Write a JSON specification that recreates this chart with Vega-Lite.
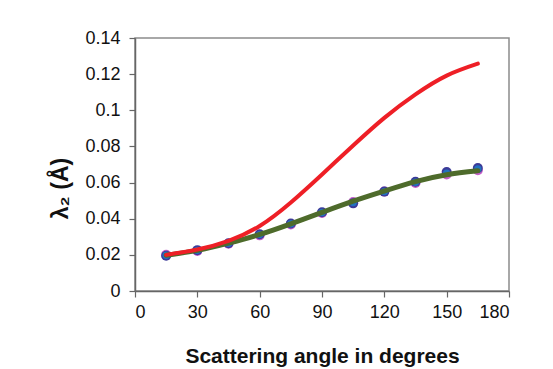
{
  "$schema": "https://vega.github.io/schema/vega-lite/v6.json",
  "width": 374,
  "height": 253,
  "autosize": "none",
  "padding": {"left": 135, "top": 38, "right": 44, "bottom": 78},
  "background": "white",
  "config": {
    "view": {"stroke": "#8c8c8c", "strokeWidth": 1.5},
    "font": "Liberation Sans"
  },
  "datasets": {
    "curves": [
      {"angle": 15, "lambda2": 0.0200, "curve": "red"},
      {"angle": 30, "lambda2": 0.0230, "curve": "red"},
      {"angle": 45, "lambda2": 0.0278, "curve": "red"},
      {"angle": 60, "lambda2": 0.0360, "curve": "red"},
      {"angle": 75, "lambda2": 0.0490, "curve": "red"},
      {"angle": 90, "lambda2": 0.0645, "curve": "red"},
      {"angle": 105, "lambda2": 0.0805, "curve": "red"},
      {"angle": 120, "lambda2": 0.0958, "curve": "red"},
      {"angle": 135, "lambda2": 0.1088, "curve": "red"},
      {"angle": 150, "lambda2": 0.1192, "curve": "red"},
      {"angle": 165, "lambda2": 0.1258, "curve": "red"},
      {"angle": 15, "lambda2": 0.0198, "curve": "green"},
      {"angle": 30, "lambda2": 0.0225, "curve": "green"},
      {"angle": 45, "lambda2": 0.0265, "curve": "green"},
      {"angle": 60, "lambda2": 0.0313, "curve": "green"},
      {"angle": 75, "lambda2": 0.0372, "curve": "green"},
      {"angle": 90, "lambda2": 0.0435, "curve": "green"},
      {"angle": 105, "lambda2": 0.0497, "curve": "green"},
      {"angle": 120, "lambda2": 0.0553, "curve": "green"},
      {"angle": 135, "lambda2": 0.0605, "curve": "green"},
      {"angle": 150, "lambda2": 0.0643, "curve": "green"},
      {"angle": 165, "lambda2": 0.0665, "curve": "green"}
    ],
    "points": [
      {"angle": 15, "lambda2": 0.0200, "set": "m"},
      {"angle": 30, "lambda2": 0.0222, "set": "m"},
      {"angle": 45, "lambda2": 0.0262, "set": "m"},
      {"angle": 60, "lambda2": 0.0308, "set": "m"},
      {"angle": 75, "lambda2": 0.0368, "set": "m"},
      {"angle": 90, "lambda2": 0.0432, "set": "m"},
      {"angle": 105, "lambda2": 0.0492, "set": "m"},
      {"angle": 120, "lambda2": 0.0550, "set": "m"},
      {"angle": 135, "lambda2": 0.0598, "set": "m"},
      {"angle": 150, "lambda2": 0.0645, "set": "m"},
      {"angle": 165, "lambda2": 0.0668, "set": "m"},
      {"angle": 15, "lambda2": 0.0195, "set": "n"},
      {"angle": 30, "lambda2": 0.0226, "set": "n"},
      {"angle": 45, "lambda2": 0.0264, "set": "n"},
      {"angle": 60, "lambda2": 0.0314, "set": "n"},
      {"angle": 75, "lambda2": 0.0374, "set": "n"},
      {"angle": 90, "lambda2": 0.0436, "set": "n"},
      {"angle": 105, "lambda2": 0.0485, "set": "n"},
      {"angle": 120, "lambda2": 0.0550, "set": "n"},
      {"angle": 135, "lambda2": 0.0605, "set": "n"},
      {"angle": 150, "lambda2": 0.0658, "set": "n"},
      {"angle": 165, "lambda2": 0.0680, "set": "n"},
      {"angle": 15, "lambda2": 0.0198, "set": "b"},
      {"angle": 30, "lambda2": 0.0225, "set": "b"},
      {"angle": 45, "lambda2": 0.0264, "set": "b"},
      {"angle": 60, "lambda2": 0.0312, "set": "b"},
      {"angle": 75, "lambda2": 0.0372, "set": "b"},
      {"angle": 90, "lambda2": 0.0434, "set": "b"},
      {"angle": 105, "lambda2": 0.0490, "set": "b"},
      {"angle": 120, "lambda2": 0.0550, "set": "b"},
      {"angle": 135, "lambda2": 0.0602, "set": "b"},
      {"angle": 150, "lambda2": 0.0652, "set": "b"},
      {"angle": 165, "lambda2": 0.0675, "set": "b"}
    ]
  },
  "encoding": {
    "x": {
      "field": "angle", "type": "quantitative",
      "scale": {"domain": [0, 180], "nice": false, "zero": false},
      "axis": {
        "values": [0, 30, 60, 90, 120, 150, 180],
        "title": "Scattering angle in degrees",
        "grid": false,
        "domainColor": "#666666", "domainWidth": 1.5,
        "tickColor": "#666666", "tickSize": 6, "tickWidth": 1.2,
        "labelFont": "Liberation Sans", "labelFontSize": 18, "labelColor": "#111111", "labelPadding": 6,
        "titleFont": "Liberation Sans", "titleFontSize": 21, "titleFontWeight": "bold", "titleColor": "#111111",
        "titlePadding": 24
      }
    },
    "y": {
      "field": "lambda2", "type": "quantitative",
      "scale": {"domain": [0, 0.14], "nice": false, "zero": true},
      "axis": {
        "values": [0, 0.02, 0.04, 0.06, 0.08, 0.1, 0.12, 0.14],
        "labelExpr": "datum.value === 0 ? '0' : format(datum.value, '.2~f')",
        "title": "λ₂ (Å)",
        "grid": false,
        "domainColor": "#666666", "domainWidth": 1.5,
        "tickColor": "#666666", "tickSize": 6, "tickWidth": 1.2,
        "labelFont": "Liberation Sans", "labelFontSize": 18, "labelColor": "#111111", "labelPadding": 9,
        "titleFont": "Liberation Sans", "titleFontSize": 23, "titleFontWeight": "bold", "titleColor": "#111111",
        "titlePadding": 12, "titleY": 150
      }
    }
  },
  "layer": [
    {
      "data": {"name": "points"},
      "transform": [{"filter": "datum.set !== 'b'"}],
      "mark": {"type": "circle", "size": 100, "opacity": 1},
      "encoding": {
        "color": {
          "field": "set", "type": "nominal",
          "scale": {"domain": ["m", "n", "b"], "range": ["#c45ec8", "#3b3a98", "#2272c0"]},
          "legend": null
        }
      }
    },
    {
      "data": {"name": "points"},
      "transform": [{"filter": "datum.set === 'b'"}],
      "mark": {"type": "circle", "size": 55, "opacity": 1},
      "encoding": {
        "color": {
          "field": "set", "type": "nominal",
          "scale": {"domain": ["m", "n", "b"], "range": ["#c45ec8", "#3b3a98", "#2272c0"]},
          "legend": null
        }
      }
    },
    {
      "data": {"name": "curves"},
      "transform": [{"filter": "datum.curve === 'green'"}],
      "mark": {"type": "line", "color": "#4e6b2b", "strokeWidth": 5, "interpolate": "natural", "strokeCap": "round"}
    },
    {
      "data": {"name": "curves"},
      "transform": [{"filter": "datum.curve === 'red'"}],
      "mark": {"type": "line", "color": "#ee1f26", "strokeWidth": 4, "interpolate": "natural", "strokeCap": "round"}
    }
  ]
}
